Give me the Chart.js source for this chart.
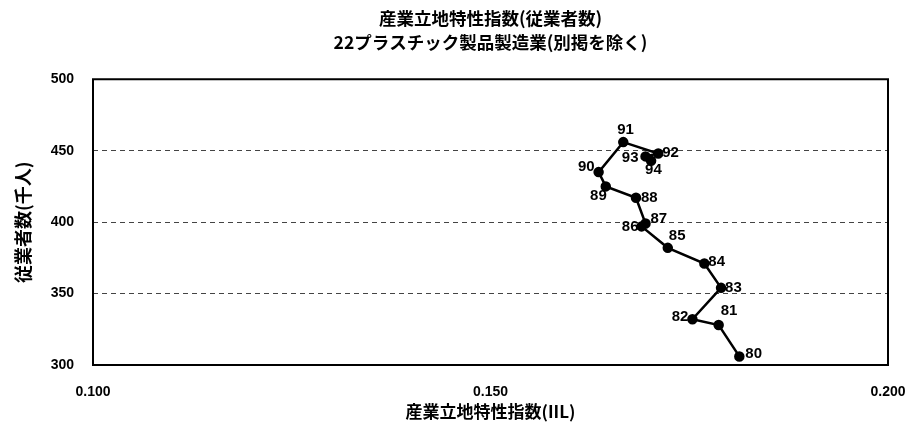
<!DOCTYPE html>
<html>
<head>
<meta charset="utf-8">
<script src="https://cdn.jsdelivr.net/npm/chart.js@4.4.0/dist/chart.umd.min.js"></script>
<style>
  html, body { margin: 0; padding: 0; background: #fff; }
  #wrap { width: 913px; height: 434px; }
</style>
</head>
<body>
<div id="wrap"><canvas id="iilChart" width="913" height="434"></canvas></div>
<script>
// 年次 (ラベル) と 各年の値
const years = ['80', '81', '82', '83', '84', '85', '86', '87', '88', '89', '90', '91', '92', '93', '94'];
const iilValues = [0.1813, 0.1787, 0.1754, 0.1790, 0.1769, 0.1723, 0.1690, 0.1695, 0.1683, 0.1645, 0.1636, 0.1667, 0.1711, 0.1695, 0.1702];
const employees = [306, 328, 332, 354, 371, 382, 397, 399, 417, 425, 435, 456, 448, 446, 443];

const xTicks = [0.100, 0.150, 0.200];
const yTicks = [300, 350, 400, 450, 500];

const FONT = '"Liberation Sans", "Noto Sans CJK JP", sans-serif';
const JP_FONT = '"Noto Sans CJK JP", "Liberation Sans", sans-serif';

// ラベルの置き場所 (点からのずれ)
const labelOffsets = {
    '80': [6, -3, 'left'], '81': [2, -14, 'left'], '82': [-4, -2, 'right'],
    '83': [4, 0, 'left'], '84': [4, -2, 'left'], '85': [1, -12, 'left'],
    '86': [-3, 0, 'right'], '87': [5, -5, 'left'], '88': [5, 0, 'left'],
    '89': [1, 9, 'right'], '90': [-4, -5, 'right'], '91': [-6, -12, 'left'],
    '92': [4, -1, 'left'], '93': [-7, 1, 'right'], '94': [-6, 9, 'left']
};

const pointLabels = {
    id: 'pointLabels',
    afterDatasetsDraw(chart) {
        const ctx = chart.ctx;
        const meta = chart.getDatasetMeta(0);
        ctx.save();
        ctx.font = 'bold 15px ' + FONT;
        ctx.fillStyle = '#000';
        ctx.textBaseline = 'middle';
        meta.data.forEach((pt, i) => {
            const off = labelOffsets[years[i]] || [5, 0, 'left'];
            ctx.textAlign = off[2];
            ctx.fillText(years[i], pt.x + off[0], pt.y + off[1]);
        });
        ctx.restore();
    }
};

const frameBox = {
    id: 'frameBox',
    afterDraw(chart) {
        const a = chart.chartArea;
        const ctx = chart.ctx;
        ctx.save();
        ctx.strokeStyle = '#000';
        ctx.lineWidth = 2;
        ctx.strokeRect(a.left, a.top, a.right - a.left, a.bottom - a.top);
        ctx.restore();
    }
};

new Chart(document.getElementById('iilChart'), {
    type: 'scatter',
    data: {
        datasets: [{
            label: '従業者数',
            data: iilValues.map((x, i) => ({ x: x, y: employees[i] })),
            showLine: true,
            borderColor: '#000',
            borderWidth: 2.5,
            backgroundColor: '#000',
            pointRadius: 4,
            pointHoverRadius: 4,
            tension: 0
        }]
    },
    options: {
        responsive: false,
        animation: false,
        events: [],
        layout: { padding: { top: 7, right: 25, left: 0, bottom: 0 } },
        plugins: {
            legend: { display: false },
            tooltip: { enabled: false },
            title: {
                display: true,
                fullSize: false,
                text: ['産業立地特性指数(従業者数)', '22プラスチック製品製造業(別掲を除く)'],
                color: '#000',
                font: { family: JP_FONT, size: 17.5, weight: 'bold', lineHeight: 1.35 },
                padding: { top: 0, bottom: 25 }
            }
        },
        scales: {
            x: {
                type: 'linear',
                min: 0.1,
                max: 0.2,
                afterBuildTicks: s => { s.ticks = xTicks.map(v => ({ value: v })); },
                ticks: {
                    color: '#000',
                    font: { family: FONT, size: 14, weight: 'bold' },
                    padding: 19,
                    maxRotation: 0,
                    callback: v => Number(v).toFixed(3)
                },
                grid: { display: false, drawTicks: false },
                border: { display: false },
                title: {
                    display: true,
                    text: '産業立地特性指数(IIL)',
                    color: '#000',
                    font: { family: JP_FONT, size: 17, weight: 'bold' },
                    padding: { top: 4, bottom: 12 }
                },
                afterFit: s => { s.height = 69; s.paddingLeft = 0; s.paddingRight = 0; }
            },
            y: {
                min: 300,
                max: 500,
                afterBuildTicks: s => { s.ticks = yTicks.map(v => ({ value: v })); },
                ticks: {
                    color: '#000',
                    font: { family: FONT, size: 14, weight: 'bold' },
                    padding: 19
                },
                grid: {
                    drawTicks: false,
                    color: ctx => (ctx.tick && (ctx.tick.value === 300 || ctx.tick.value === 500)) ? 'rgba(0,0,0,0)' : '#444',
                    lineWidth: 1
                },
                border: { display: false, dash: [5, 4] },
                title: {
                    display: true,
                    text: '従業者数(千人)',
                    color: '#000',
                    font: { family: JP_FONT, size: 18, weight: 'bold' },
                    padding: { top: 12, bottom: 0 }
                },
                afterFit: s => { s.width = 93; s.paddingTop = 0; s.paddingBottom = 0; }
            }
        }
    },
    plugins: [pointLabels, frameBox]
});
</script>
</body>
</html>
